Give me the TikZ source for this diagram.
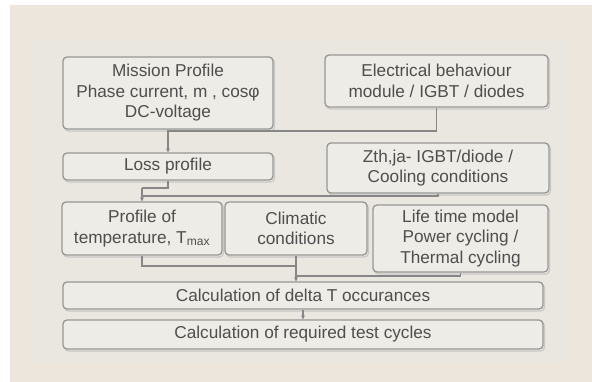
\documentclass[tikz,border=0pt]{standalone}
\usepackage{fontspec}
\setmainfont{Liberation Sans}
\usetikzlibrary{arrows.meta}
\definecolor{outerbg}{RGB}{237,230,221}
\definecolor{panelbg}{RGB}{234,231,224}
\definecolor{boxfill}{RGB}{238,236,230}
\definecolor{edge}{RGB}{150,150,150}
\definecolor{edgelight}{RGB}{200,200,198}
\definecolor{txt}{RGB}{78,78,78}
\definecolor{wire}{RGB}{135,135,135}
\begin{document}
\begin{tikzpicture}[x=1pt,y=-1pt,
  box/.style={draw=edge, line width=1.3pt, fill=boxfill, rounded corners=4pt,
    text=txt, align=center, inner sep=0pt,
    font=\fontsize{17.2}{20.5}\selectfont,
    preaction={draw=edgelight, line width=1.2pt, transform canvas={shift={(1.5pt,-2pt)}}}},
  wire/.style={draw=wire, line width=1.2pt},
  arr/.style={wire, -{Stealth[length=4pt,width=4pt]}}]
\useasboundingbox (0,0) rectangle (592,382);
\fill[white] (0,0) rectangle (592,382);
\fill[outerbg] (10,5) rectangle (592,382);
\fill[panelbg] (33,40) rectangle (565,362);

\node[box, minimum width=210pt, minimum height=72pt] (mp) at (168,93)
  {Mission Profile\\Phase current, m , cosφ\\DC-voltage};
\node[box, minimum width=223pt, minimum height=52pt] (el) at (436.5,81)
  {Electrical behaviour\\module / IGBT / diodes};
\node[box, minimum width=210pt, minimum height=27pt] (loss) at (168,166.5)
  {Loss profile};
\node[box, minimum width=222pt, minimum height=50pt] (zth) at (438,168)
  {Zth,ja- IGBT/diode /\\Cooling conditions};
\node[box, minimum width=160pt, minimum height=53pt] (temp) at (142,228.5)
  {Profile of\\temperature, T\textsubscript{max}};
\node[box, minimum width=142pt, minimum height=53pt] (clim) at (296,228.5)
  {Climatic\\conditions};
\node[box, minimum width=175pt, minimum height=67pt] (life) at (460.5,238.5)
  {Life time model\\Power cycling /\\Thermal cycling};
\node[box, minimum width=480pt, minimum height=27pt] (dT) at (303,295.5)
  {Calculation of delta T occurances};
\node[box, minimum width=480pt, minimum height=29pt] (req) at (303,334.5)
  {Calculation of required test cycles};

\coordinate (j1) at (168,131);
\coordinate (j2) at (142,188);
\coordinate (j3) at (142,196);
\coordinate (j4) at (296,266);
\coordinate (j5) at (296,276);

\draw[wire] (el.south) |- (j1);
\draw[arr] (mp.south) -- (loss.north);
\draw[wire] (loss.south) |- (j2);
\draw[arr] (j2) -- (temp.north);
\draw[wire] (zth.south) |- (j3);
\draw[wire] (temp.south) |- (j4);
\draw[arr] (clim.south) -- (clim.south |- dT.north);
\draw[wire] (life.south) |- (j5);
\draw[arr] (dT.south) -- (req.north);
\end{tikzpicture}
\end{document}
